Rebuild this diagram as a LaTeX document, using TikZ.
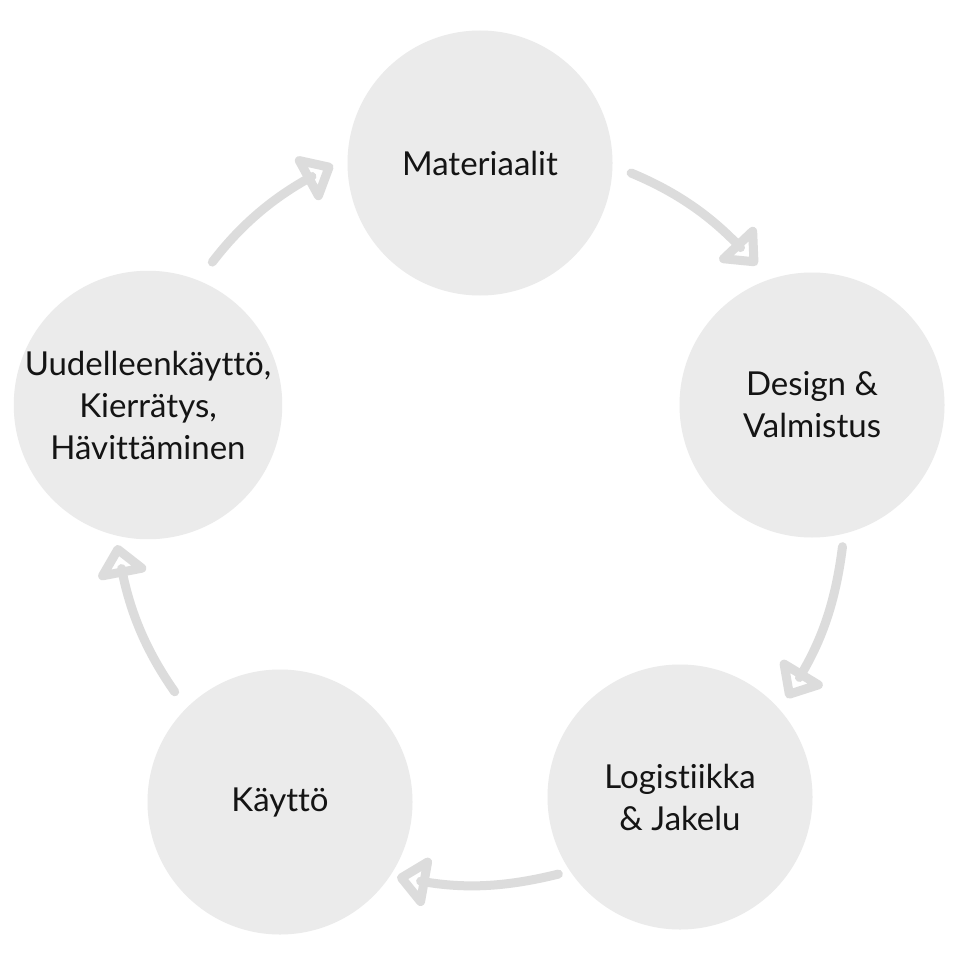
\documentclass[tikz,border=0pt]{standalone}
\usepackage{fontspec}
\setmainfont{Lato}[Ligatures={NoCommon}]
\usetikzlibrary{calc,decorations.markings}
\definecolor{circ}{HTML}{EBEBEB}
\definecolor{arr}{HTML}{DCDCDC}
\begin{document}
\begin{tikzpicture}[x=1pt,y=-1pt,
  stage/.style={circle,fill=circ,minimum size=265pt,inner sep=0pt,align=center,
    font=\fontsize{33}{42}\selectfont,text=black!92},
  flow/.style={draw=arr,line width=9pt,line cap=round,line join=round,shorten >=24pt,
    postaction={decorate,decoration={markings,
      mark=at position 1 with {\draw[draw=arr,line width=9pt,line join=round,
        shorten >=0pt,shorten <=0pt] (-4.5,0) -- (-27.5,20) -- (-27.5,-20) -- cycle;}}}}]
\useasboundingbox[fill=white] (0,0) rectangle (960,960);
\node[stage] (mat) at (480,163) {Materiaalit};
\node[stage] (des) at (812,405) {Design \&\\Valmistus};
\node[stage] (log) at (680,797) {Logistiikka\\\& Jakelu};
\node[stage] (kay) at (280,802) {Käyttö};
\node[stage] (uud) at (148,405) {Uudelleenkäyttö,\\Kierrätys,\\Hävittäminen};
\coordinate (t1) at ($(des)+(-55,-140)$);
\coordinate (t2) at ($(log)+(107,-99)$);
\coordinate (t3) at ($(kay)+(117,75)$);
\coordinate (t4) at ($(uud)+(-31,140)$);
\coordinate (t5) at ($(mat)+(-147,2)$);
\draw[flow,shorten <=20pt] (mat.-1) to[bend left=12] (t1);
\draw[flow,shorten <=13pt] (des.-76) to[bend left=12] (t2);
\draw[flow,shorten <=12pt] (log.214) to[bend left=12] (t3);
\draw[flow,shorten <=20pt] (kay.135) to[bend left=12] (t4);
\draw[flow,shorten <=23pt] (uud.68) to[bend left=12] (t5);
\end{tikzpicture}
\end{document}
